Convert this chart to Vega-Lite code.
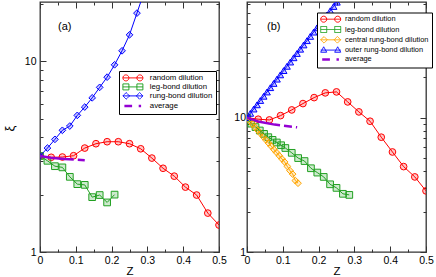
{
  "$schema": "https://vega.github.io/schema/vega-lite/v6.json",
  "padding": {"left": 2, "top": 0, "right": 2, "bottom": 0},
  "background": "white",
  "spacing": 6,
  "config": {
    "view": {"stroke": "#333333", "strokeWidth": 1.3},
    "font": "Liberation Sans",
    "axis": {"grid": false, "domain": false, "labelFont": "Liberation Sans", "labelFontSize": 10.5, "labelColor": "black", "titleFont": "Liberation Sans", "titleColor": "black", "titleFontWeight": "normal", "tickColor": "#333333", "tickWidth": 1, "labelFlush": false, "labelOverlap": false},
    "legend": {"labelFont": "Liberation Sans", "labelColor": "black", "strokeColor": "black", "fillColor": "white", "padding": 3, "symbolSize": 36, "symbolOffset": 7, "symbolStrokeWidth": 1, "titleFontSize": 0}
  },
  "datasets": {
    "curves": [
      {"panel": "a", "series": "random dilution", "z": 0, "xi": 3.19},
      {"panel": "a", "series": "random dilution", "z": 0.03125, "xi": 3.14},
      {"panel": "a", "series": "random dilution", "z": 0.0625, "xi": 3.15},
      {"panel": "a", "series": "random dilution", "z": 0.09375, "xi": 3.2},
      {"panel": "a", "series": "random dilution", "z": 0.125, "xi": 3.51},
      {"panel": "a", "series": "random dilution", "z": 0.15625, "xi": 3.7},
      {"panel": "a", "series": "random dilution", "z": 0.1875, "xi": 3.79},
      {"panel": "a", "series": "random dilution", "z": 0.21875, "xi": 3.79},
      {"panel": "a", "series": "random dilution", "z": 0.25, "xi": 3.7},
      {"panel": "a", "series": "random dilution", "z": 0.28125, "xi": 3.48},
      {"panel": "a", "series": "random dilution", "z": 0.3125, "xi": 3.11},
      {"panel": "a", "series": "random dilution", "z": 0.34375, "xi": 2.75},
      {"panel": "a", "series": "random dilution", "z": 0.375, "xi": 2.5},
      {"panel": "a", "series": "random dilution", "z": 0.40625, "xi": 2.19},
      {"panel": "a", "series": "random dilution", "z": 0.4375, "xi": 1.99},
      {"panel": "a", "series": "random dilution", "z": 0.46875, "xi": 1.6},
      {"panel": "a", "series": "random dilution", "z": 0.5, "xi": 1.385},
      {"panel": "a", "series": "leg-bond dilution", "z": 0, "xi": 3.19},
      {"panel": "a", "series": "leg-bond dilution", "z": 0.0208, "xi": 3.01},
      {"panel": "a", "series": "leg-bond dilution", "z": 0.0417, "xi": 2.82},
      {"panel": "a", "series": "leg-bond dilution", "z": 0.0625, "xi": 2.78},
      {"panel": "a", "series": "leg-bond dilution", "z": 0.0833, "xi": 2.48},
      {"panel": "a", "series": "leg-bond dilution", "z": 0.1042, "xi": 2.27},
      {"panel": "a", "series": "leg-bond dilution", "z": 0.125, "xi": 2.25},
      {"panel": "a", "series": "leg-bond dilution", "z": 0.1458, "xi": 1.94},
      {"panel": "a", "series": "leg-bond dilution", "z": 0.1667, "xi": 1.99},
      {"panel": "a", "series": "leg-bond dilution", "z": 0.1875, "xi": 1.82},
      {"panel": "a", "series": "leg-bond dilution", "z": 0.2083, "xi": 2.0},
      {"panel": "a", "series": "rung-bond dilution", "z": 0, "xi": 3.19},
      {"panel": "a", "series": "rung-bond dilution", "z": 0.0208, "xi": 3.51},
      {"panel": "a", "series": "rung-bond dilution", "z": 0.0417, "xi": 3.9},
      {"panel": "a", "series": "rung-bond dilution", "z": 0.0625, "xi": 4.35},
      {"panel": "a", "series": "rung-bond dilution", "z": 0.0833, "xi": 4.58},
      {"panel": "a", "series": "rung-bond dilution", "z": 0.1042, "xi": 5.21},
      {"panel": "a", "series": "rung-bond dilution", "z": 0.125, "xi": 5.76},
      {"panel": "a", "series": "rung-bond dilution", "z": 0.1458, "xi": 6.44},
      {"panel": "a", "series": "rung-bond dilution", "z": 0.1667, "xi": 7.31},
      {"panel": "a", "series": "rung-bond dilution", "z": 0.1875, "xi": 8.27},
      {"panel": "a", "series": "rung-bond dilution", "z": 0.2083, "xi": 9.6},
      {"panel": "a", "series": "rung-bond dilution", "z": 0.2292, "xi": 11.37},
      {"panel": "a", "series": "rung-bond dilution", "z": 0.25, "xi": 13.79},
      {"panel": "a", "series": "rung-bond dilution", "z": 0.2708, "xi": 17.92},
      {"panel": "a", "series": "rung-bond dilution", "z": 0.2917, "xi": 23.4},
      {"panel": "b", "series": "random dilution", "z": 0, "xi": 10.0},
      {"panel": "b", "series": "random dilution", "z": 0.03125, "xi": 9.73},
      {"panel": "b", "series": "random dilution", "z": 0.0625, "xi": 9.61},
      {"panel": "b", "series": "random dilution", "z": 0.09375, "xi": 10.35},
      {"panel": "b", "series": "random dilution", "z": 0.125, "xi": 11.41},
      {"panel": "b", "series": "random dilution", "z": 0.15625, "xi": 12.72},
      {"panel": "b", "series": "random dilution", "z": 0.1875, "xi": 14.09},
      {"panel": "b", "series": "random dilution", "z": 0.21875, "xi": 15.28},
      {"panel": "b", "series": "random dilution", "z": 0.25, "xi": 15.54},
      {"panel": "b", "series": "random dilution", "z": 0.28125, "xi": 13.09},
      {"panel": "b", "series": "random dilution", "z": 0.3125, "xi": 11.03},
      {"panel": "b", "series": "random dilution", "z": 0.34375, "xi": 9.4},
      {"panel": "b", "series": "random dilution", "z": 0.375, "xi": 7.15},
      {"panel": "b", "series": "random dilution", "z": 0.40625, "xi": 5.55},
      {"panel": "b", "series": "random dilution", "z": 0.4375, "xi": 4.32},
      {"panel": "b", "series": "random dilution", "z": 0.46875, "xi": 3.62},
      {"panel": "b", "series": "random dilution", "z": 0.5, "xi": 2.85},
      {"panel": "b", "series": "leg-bond dilution", "z": 0, "xi": 10.0},
      {"panel": "b", "series": "leg-bond dilution", "z": 0.0119, "xi": 9.02},
      {"panel": "b", "series": "leg-bond dilution", "z": 0.0238, "xi": 8.5},
      {"panel": "b", "series": "leg-bond dilution", "z": 0.0357, "xi": 8.02},
      {"panel": "b", "series": "leg-bond dilution", "z": 0.0476, "xi": 7.57},
      {"panel": "b", "series": "leg-bond dilution", "z": 0.0595, "xi": 7.15},
      {"panel": "b", "series": "leg-bond dilution", "z": 0.0714, "xi": 6.83},
      {"panel": "b", "series": "leg-bond dilution", "z": 0.0833, "xi": 6.53},
      {"panel": "b", "series": "leg-bond dilution", "z": 0.0952, "xi": 6.23},
      {"panel": "b", "series": "leg-bond dilution", "z": 0.1071, "xi": 5.94},
      {"panel": "b", "series": "leg-bond dilution", "z": 0.125, "xi": 5.47},
      {"panel": "b", "series": "leg-bond dilution", "z": 0.1429, "xi": 5.0},
      {"panel": "b", "series": "leg-bond dilution", "z": 0.1607, "xi": 4.75},
      {"panel": "b", "series": "leg-bond dilution", "z": 0.1786, "xi": 4.2},
      {"panel": "b", "series": "leg-bond dilution", "z": 0.1964, "xi": 3.9},
      {"panel": "b", "series": "leg-bond dilution", "z": 0.2143, "xi": 3.62},
      {"panel": "b", "series": "leg-bond dilution", "z": 0.2321, "xi": 3.19},
      {"panel": "b", "series": "leg-bond dilution", "z": 0.25, "xi": 3.0},
      {"panel": "b", "series": "leg-bond dilution", "z": 0.2679, "xi": 2.71},
      {"panel": "b", "series": "leg-bond dilution", "z": 0.2857, "xi": 2.66},
      {"panel": "b", "series": "central rung-bond dilution", "z": 0, "xi": 10.0},
      {"panel": "b", "series": "central rung-bond dilution", "z": 0.0075, "xi": 9.47},
      {"panel": "b", "series": "central rung-bond dilution", "z": 0.015, "xi": 8.97},
      {"panel": "b", "series": "central rung-bond dilution", "z": 0.0225, "xi": 8.49},
      {"panel": "b", "series": "central rung-bond dilution", "z": 0.03, "xi": 8.04},
      {"panel": "b", "series": "central rung-bond dilution", "z": 0.0375, "xi": 7.62},
      {"panel": "b", "series": "central rung-bond dilution", "z": 0.045, "xi": 7.22},
      {"panel": "b", "series": "central rung-bond dilution", "z": 0.0525, "xi": 6.83},
      {"panel": "b", "series": "central rung-bond dilution", "z": 0.06, "xi": 6.47},
      {"panel": "b", "series": "central rung-bond dilution", "z": 0.0675, "xi": 6.13},
      {"panel": "b", "series": "central rung-bond dilution", "z": 0.075, "xi": 5.8},
      {"panel": "b", "series": "central rung-bond dilution", "z": 0.0825, "xi": 5.5},
      {"panel": "b", "series": "central rung-bond dilution", "z": 0.09, "xi": 5.21},
      {"panel": "b", "series": "central rung-bond dilution", "z": 0.0975, "xi": 4.93},
      {"panel": "b", "series": "central rung-bond dilution", "z": 0.105, "xi": 4.68},
      {"panel": "b", "series": "central rung-bond dilution", "z": 0.1125, "xi": 4.34},
      {"panel": "b", "series": "central rung-bond dilution", "z": 0.12, "xi": 4.03},
      {"panel": "b", "series": "central rung-bond dilution", "z": 0.1275, "xi": 3.8},
      {"panel": "b", "series": "central rung-bond dilution", "z": 0.135, "xi": 3.4},
      {"panel": "b", "series": "central rung-bond dilution", "z": 0.1425, "xi": 3.25},
      {"panel": "b", "series": "outer rung-bond dilution", "z": 0, "xi": 10.0},
      {"panel": "b", "series": "outer rung-bond dilution", "z": 0.0093, "xi": 10.76},
      {"panel": "b", "series": "outer rung-bond dilution", "z": 0.0186, "xi": 11.58},
      {"panel": "b", "series": "outer rung-bond dilution", "z": 0.0279, "xi": 12.45},
      {"panel": "b", "series": "outer rung-bond dilution", "z": 0.0372, "xi": 13.41},
      {"panel": "b", "series": "outer rung-bond dilution", "z": 0.0465, "xi": 14.42},
      {"panel": "b", "series": "outer rung-bond dilution", "z": 0.0558, "xi": 15.51},
      {"panel": "b", "series": "outer rung-bond dilution", "z": 0.0651, "xi": 16.7},
      {"panel": "b", "series": "outer rung-bond dilution", "z": 0.0744, "xi": 17.96},
      {"panel": "b", "series": "outer rung-bond dilution", "z": 0.0837, "xi": 19.33},
      {"panel": "b", "series": "outer rung-bond dilution", "z": 0.093, "xi": 20.8},
      {"panel": "b", "series": "outer rung-bond dilution", "z": 0.1023, "xi": 22.38},
      {"panel": "b", "series": "outer rung-bond dilution", "z": 0.1116, "xi": 24.08},
      {"panel": "b", "series": "outer rung-bond dilution", "z": 0.1209, "xi": 25.91},
      {"panel": "b", "series": "outer rung-bond dilution", "z": 0.1302, "xi": 27.88},
      {"panel": "b", "series": "outer rung-bond dilution", "z": 0.1395, "xi": 30.0},
      {"panel": "b", "series": "outer rung-bond dilution", "z": 0.1488, "xi": 32.28},
      {"panel": "b", "series": "outer rung-bond dilution", "z": 0.1581, "xi": 34.73},
      {"panel": "b", "series": "outer rung-bond dilution", "z": 0.1674, "xi": 37.37},
      {"panel": "b", "series": "outer rung-bond dilution", "z": 0.1767, "xi": 40.21},
      {"panel": "b", "series": "outer rung-bond dilution", "z": 0.186, "xi": 43.27},
      {"panel": "b", "series": "outer rung-bond dilution", "z": 0.1953, "xi": 46.56},
      {"panel": "b", "series": "outer rung-bond dilution", "z": 0.2046, "xi": 50.1},
      {"panel": "b", "series": "outer rung-bond dilution", "z": 0.2139, "xi": 53.9},
      {"panel": "b", "series": "outer rung-bond dilution", "z": 0.2232, "xi": 58.0},
      {"panel": "b", "series": "outer rung-bond dilution", "z": 0.2325, "xi": 62.41},
      {"panel": "b", "series": "outer rung-bond dilution", "z": 0.2418, "xi": 67.14},
      {"panel": "b", "series": "outer rung-bond dilution", "z": 0.2511, "xi": 72.25},
      {"panel": "b", "series": "outer rung-bond dilution", "z": 0.2604, "xi": 77.7}
    ],
    "avg": [
      {"panel": "a", "series": "average", "z": 0, "xi": 3.19},
      {"panel": "a", "series": "average", "z": 0.03, "xi": 3.12},
      {"panel": "a", "series": "average", "z": 0.068, "xi": 3.08},
      {"panel": "a", "series": "average", "z": 0.125, "xi": 3.03},
      {"panel": "b", "series": "average", "z": 0, "xi": 10.0},
      {"panel": "b", "series": "average", "z": 0.035, "xi": 9.3},
      {"panel": "b", "series": "average", "z": 0.077, "xi": 8.87},
      {"panel": "b", "series": "average", "z": 0.14, "xi": 8.47}
    ]
  },
  "resolve": {"scale": {"color": "independent", "stroke": "independent", "fill": "independent", "shape": "independent", "x": "independent", "y": "independent"}, "legend": {"color": "independent"}},
  "hconcat": [
    {
      "width": 179,
      "height": 250,
      "title": {"text": "(a)", "anchor": "start", "frame": "group", "fontSize": 11, "fontWeight": "normal", "font": "Liberation Sans", "baseline": "middle", "offset": 0, "dx": 18, "dy": 36},
      "resolve": {"axis": {"x": "independent", "y": "independent"}},
      "layer": [
        {
          "data": {"name": "curves"},
          "transform": [{"filter": "datum.panel == 'a'"}],
          "mark": {"type": "point", "filled": false, "clip": true, "size": 45, "strokeWidth": 1, "fillOpacity": 0.22, "opacity": 1},
          "encoding": {
            "x": {"field": "z", "type": "quantitative", "scale": {"domain": [0, 0.5], "nice": false, "zero": false},
              "axis": {"orient": "bottom", "values": [0, 0.05, 0.1, 0.15, 0.2, 0.25, 0.3, 0.35, 0.4, 0.45, 0.5], "labels": false, "title": null,
                "tickSize": {"condition": {"test": "abs(datum.value*10-round(datum.value*10))<0.01", "value": -6}, "value": -3}}},
            "y": {"field": "xi", "type": "quantitative", "scale": {"type": "log", "domain": [1, 20.5], "nice": false},
              "axis": {"orient": "left", "values": [1, 2, 3, 4, 5, 6, 7, 8, 9, 10, 20], "labels": false, "title": null,
                "tickSize": {"condition": {"test": "datum.value==1||datum.value==10", "value": -6}, "value": -3}}},
            "stroke": {"field": "series", "type": "nominal", "scale": {"domain": ["random dilution", "leg-bond dilution", "rung-bond dilution"], "range": ["#ff0000", "#22a022", "#0000ff"]}, "legend": null},
            "fill": {"field": "series", "type": "nominal", "scale": {"domain": ["random dilution", "leg-bond dilution", "rung-bond dilution"], "range": ["#ff0000", "#22a022", "#0000ff"]}, "legend": null},
            "shape": {"field": "series", "type": "nominal", "scale": {"domain": ["random dilution", "leg-bond dilution", "rung-bond dilution"], "range": ["circle", "square", "diamond"]}, "legend": null}
          }
        },
        {
          "data": {"name": "curves"},
          "transform": [{"filter": "datum.panel == 'a'"}],
          "mark": {"type": "line", "clip": true, "strokeWidth": 1},
          "encoding": {
            "x": {"field": "z", "type": "quantitative", "scale": {"domain": [0, 0.5], "nice": false, "zero": false},
              "axis": {"orient": "bottom", "values": [0, 0.1, 0.2, 0.3, 0.4, 0.5], "labelExpr": "datum.value == 0 ? '0' : format(datum.value, '.1f')", "ticks": false, "labelPadding": 3, "title": "Z", "titleFontSize": 11.5, "titlePadding": 0}},
            "y": {"field": "xi", "type": "quantitative", "scale": {"type": "log", "domain": [1, 20.5], "nice": false},
              "axis": {"orient": "left", "values": [1, 10], "format": "d", "ticks": false, "labelPadding": 4, "title": "ξ", "titleFontSize": 13, "titlePadding": 8, "titleY": 126}},
            "color": {"field": "series", "type": "nominal",
              "scale": {"domain": ["random dilution", "leg-bond dilution", "rung-bond dilution", "average"], "range": ["#ff0000", "#22a022", "#0000ff", "#9400d3"]},
              "legend": {"title": null, "orient": "none", "legendX": 79, "legendY": 69, "labelFontSize": 7.8, "rowPadding": -2, "labelOffset": 13,
                "encode": {"symbols": {"update": {
                  "shape": {"signal": "datum.value==='random dilution'?'M-3.333,0H3.333M-3.333,0A1,1,0,1,1,-1.333,0A1,1,0,1,1,-3.333,0M1.333,0A1,1,0,1,1,3.333,0A1,1,0,1,1,1.333,0':(datum.value==='leg-bond dilution'?'M-3.333,0H3.333M-3.333,-1H-1.333V1H-3.333ZM1.333,-1H3.333V1H1.333Z':(datum.value==='average'?'M-2.833,0H-0.267M1.933,0H2.733':'M-3.333,0H3.333M-3.333,0L-2.233,-1.1L-1.133,0L-2.233,1.1ZM1.133,0L2.233,-1.1L3.333,0L2.233,1.1Z'))"},
                  "fill": {"value": "transparent"},
                  "strokeDash": {"value": [1, 0]},
                  "strokeWidth": {"signal": "datum.value==='average'?2.5:1"}
                }}}}}
          }
        },
        {
          "data": {"name": "avg"},
          "transform": [{"filter": "datum.panel == 'a'"}],
          "mark": {"type": "line", "clip": true, "strokeWidth": 2.5, "strokeDash": [34, 4, 8, 4]},
          "encoding": {
            "x": {"field": "z", "type": "quantitative", "scale": {"domain": [0, 0.5], "nice": false, "zero": false},
              "axis": {"orient": "top", "values": [0, 0.05, 0.1, 0.15, 0.2, 0.25, 0.3, 0.35, 0.4, 0.45, 0.5], "labels": false, "title": null,
                "tickSize": {"condition": {"test": "abs(datum.value*10-round(datum.value*10))<0.01", "value": -6}, "value": -3}}},
            "y": {"field": "xi", "type": "quantitative", "scale": {"type": "log", "domain": [1, 20.5], "nice": false},
              "axis": {"orient": "right", "values": [1, 2, 3, 4, 5, 6, 7, 8, 9, 10, 20], "labels": false, "title": null,
                "tickSize": {"condition": {"test": "datum.value==1||datum.value==10", "value": -6}, "value": -3}}},
            "color": {"field": "series", "type": "nominal"}
          }
        }
      ]
    },
    {
      "width": 179,
      "height": 250,
      "title": {"text": "(b)", "anchor": "start", "frame": "group", "fontSize": 11, "fontWeight": "normal", "font": "Liberation Sans", "baseline": "middle", "offset": 0, "dx": 20, "dy": 36},
      "resolve": {"axis": {"x": "independent", "y": "independent"}},
      "layer": [
        {
          "data": {"name": "curves"},
          "transform": [{"filter": "datum.panel == 'b'"}],
          "mark": {"type": "point", "filled": false, "clip": true, "size": 45, "strokeWidth": 1, "fillOpacity": 0.22, "opacity": 1},
          "encoding": {
            "x": {"field": "z", "type": "quantitative", "scale": {"domain": [0, 0.5], "nice": false, "zero": false},
              "axis": {"orient": "bottom", "values": [0, 0.05, 0.1, 0.15, 0.2, 0.25, 0.3, 0.35, 0.4, 0.45, 0.5], "labels": false, "title": null,
                "tickSize": {"condition": {"test": "abs(datum.value*10-round(datum.value*10))<0.01", "value": -6}, "value": -3}}},
            "y": {"field": "xi", "type": "quantitative", "scale": {"type": "log", "domain": [1, 72.5], "nice": false},
              "axis": {"orient": "left", "values": [1, 2, 3, 4, 5, 6, 7, 8, 9, 10, 20, 30, 40, 50, 60, 70], "labels": false, "title": null,
                "tickSize": {"condition": {"test": "datum.value==1||datum.value==10", "value": -6}, "value": -3}}},
            "stroke": {"field": "series", "type": "nominal", "scale": {"domain": ["random dilution", "leg-bond dilution", "central rung-bond dilution", "outer rung-bond dilution"], "range": ["#ff0000", "#22a022", "#ffa500", "#0000ff"]}, "legend": null},
            "fill": {"field": "series", "type": "nominal", "scale": {"domain": ["random dilution", "leg-bond dilution", "central rung-bond dilution", "outer rung-bond dilution"], "range": ["#ff0000", "#22a022", "#ffa500", "#0000ff"]}, "legend": null},
            "shape": {"field": "series", "type": "nominal", "scale": {"domain": ["random dilution", "leg-bond dilution", "central rung-bond dilution", "outer rung-bond dilution"], "range": ["circle", "square", "diamond", "triangle-up"]}, "legend": null}
          }
        },
        {
          "data": {"name": "curves"},
          "transform": [{"filter": "datum.panel == 'b'"}],
          "mark": {"type": "line", "clip": true, "strokeWidth": 1},
          "encoding": {
            "x": {"field": "z", "type": "quantitative", "scale": {"domain": [0, 0.5], "nice": false, "zero": false},
              "axis": {"orient": "bottom", "values": [0, 0.1, 0.2, 0.3, 0.4, 0.5], "labelExpr": "datum.value == 0 ? '0' : format(datum.value, '.1f')", "ticks": false, "labelPadding": 3, "title": "Z", "titleFontSize": 11.5, "titlePadding": 0}},
            "y": {"field": "xi", "type": "quantitative", "scale": {"type": "log", "domain": [1, 72.5], "nice": false},
              "axis": {"orient": "left", "values": [1, 10], "format": "d", "ticks": false, "labelPadding": 1.5, "title": null}},
            "color": {"field": "series", "type": "nominal",
              "scale": {"domain": ["random dilution", "leg-bond dilution", "central rung-bond dilution", "outer rung-bond dilution", "average"], "range": ["#ff0000", "#22a022", "#ffa500", "#0000ff", "#9400d3"]},
              "legend": {"title": null, "orient": "none", "legendX": 70, "legendY": 10.5, "labelFontSize": 7.4, "rowPadding": -0.7, "labelOffset": 10.6,
                "encode": {"symbols": {"update": {
                  "shape": {"signal": "datum.value==='random dilution'?'M-3.333,0H3.333M-3.333,0A1,1,0,1,1,-1.333,0A1,1,0,1,1,-3.333,0M1.333,0A1,1,0,1,1,3.333,0A1,1,0,1,1,1.333,0':(datum.value==='leg-bond dilution'?'M-3.333,0H3.333M-3.333,-1H-1.333V1H-3.333ZM1.333,-1H3.333V1H1.333Z':(datum.value==='average'?'M-2.833,0H-0.267M1.933,0H2.733':(datum.value==='outer rung-bond dilution'?'M-3.333,0H3.333M-3.333,0.7L-2.333,-1.1L-1.333,0.7ZM1.333,0.7L2.333,-1.1L3.333,0.7Z':'M-3.333,0H3.333M-3.333,0L-2.233,-1.1L-1.133,0L-2.233,1.1ZM1.133,0L2.233,-1.1L3.333,0L2.233,1.1Z')))"},
                  "fill": {"value": "transparent"},
                  "strokeDash": {"value": [1, 0]},
                  "strokeWidth": {"signal": "datum.value==='average'?2.5:1"}
                }}}}}
          }
        },
        {
          "data": {"name": "avg"},
          "transform": [{"filter": "datum.panel == 'b'"}],
          "mark": {"type": "line", "clip": true, "strokeWidth": 2.5, "strokeDash": [34, 4, 8, 4]},
          "encoding": {
            "x": {"field": "z", "type": "quantitative", "scale": {"domain": [0, 0.5], "nice": false, "zero": false},
              "axis": {"orient": "top", "values": [0, 0.05, 0.1, 0.15, 0.2, 0.25, 0.3, 0.35, 0.4, 0.45, 0.5], "labels": false, "title": null,
                "tickSize": {"condition": {"test": "abs(datum.value*10-round(datum.value*10))<0.01", "value": -6}, "value": -3}}},
            "y": {"field": "xi", "type": "quantitative", "scale": {"type": "log", "domain": [1, 72.5], "nice": false},
              "axis": {"orient": "right", "values": [1, 2, 3, 4, 5, 6, 7, 8, 9, 10, 20, 30, 40, 50, 60, 70], "labels": false, "title": null,
                "tickSize": {"condition": {"test": "datum.value==1||datum.value==10", "value": -6}, "value": -3}}},
            "color": {"field": "series", "type": "nominal"}
          }
        }
      ]
    }
  ]
}
